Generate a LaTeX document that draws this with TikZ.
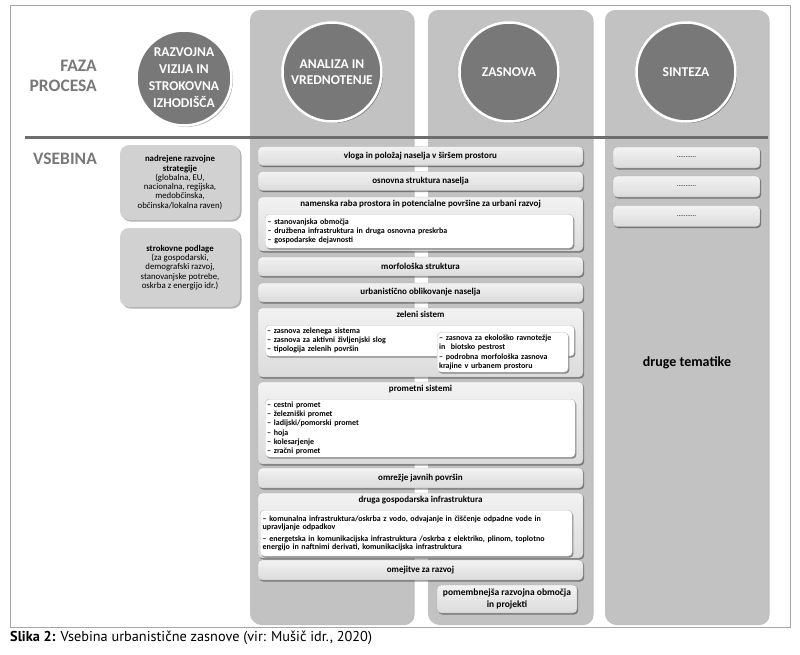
\documentclass[tikz,border=0pt]{standalone}
\usepackage[table,usenames,dvipsnames]{xcolor}
\usepackage{fontspec}
\setmainfont{Carlito}
\newfontfamily\captionfont{PT Sans}
\usetikzlibrary{shadows}

\begin{document}
\begin{tikzpicture}[x=1pt, y=-1pt,
column/.style={shape=rectangle, rounded corners=10pt, fill=gray!48, minimum width=163pt, minimum height=614pt, drop shadow={shadow xshift=1.5pt, shadow yshift=-1pt, fill=black, opacity=0.25}},
phase/.style={shape=circle, draw=white, line width=2.5pt, fill=black!53, text=white, minimum size=99pt, inner sep=0pt, align=center, font=\fontsize{13.5}{16}\selectfont\bfseries, drop shadow={shadow xshift=1.5pt, shadow yshift=-1.5pt, fill=black, opacity=0.35}},
topic/.style={shape=rectangle, rounded corners=4pt, draw=gray!60, top color=gray!10, bottom color=gray!28, minimum width=325pt, minimum height=19pt, inner sep=0pt, align=center, font=\fontsize{9}{10.5}\selectfont\bfseries, drop shadow={shadow xshift=1.2pt, shadow yshift=-1.5pt, fill=black, opacity=0.4}},
sidebox/.style={shape=rectangle, rounded corners=9pt, fill=gray!36, minimum width=120pt, inner sep=0pt, align=center, font=\fontsize{8.8}{9.3}\selectfont, drop shadow={shadow xshift=1.5pt, shadow yshift=-1.5pt, fill=black, opacity=0.3}},
listbox/.style={shape=rectangle, rounded corners=4pt, draw=gray!50, fill=white, anchor=north west, inner sep=2.5pt, align=left, font=\fontsize{8}{9}\selectfont\bfseries, drop shadow={shadow xshift=1.2pt, shadow yshift=-1.5pt, fill=black, opacity=0.4}},
every label/.style={font=\fontsize{9}{10.5}\selectfont\bfseries, inner sep=2pt}]
\useasboundingbox (0,0) rectangle (800,654);
\draw[gray!70, line width=0.8pt] (10,5) rectangle (790,627);

\node[column] (c1) at (331.5,317) {};
\node[column, minimum width=164pt] (c2) at (510,317) {};
\node[column] (c3) at (686.5,317) {};

\node[phase, minimum size=95pt, font=\fontsize{13.5}{17}\selectfont\bfseries] (p0) at (184,78) {RAZVOJNA\\VIZIJA IN\\STROKOVNA\\IZHODIŠČA};
\node[phase] (p1) at (332,72) {ANALIZA IN\\VREDNOTENJE};
\node[phase] (p2) at (509,72) {ZASNOVA};
\node[phase] (p3) at (686,72) {SINTEZA};

\node[anchor=east, align=right, inner sep=0pt, text=black!53, font=\fontsize{17.5}{20}\selectfont\bfseries] (faza) at (97,76) {FAZA\\PROCESA};
\coordinate (l0) at (25,137);
\coordinate (l1) at (768,137);
\draw[black!57, line width=3pt] (l0) -- (l1);
\node[anchor=west, inner sep=0pt, text=black!53, font=\fontsize{17.5}{20}\selectfont\bfseries] (vsebina) at (33,159) {VSEBINA};

\node[sidebox, minimum height=75pt] (s0) at (180,182.5) {\textbf{nadrejene razvojne}\\\textbf{strategije}\\(globalna, EU,\\nacionalna, regijska,\\medobčinska,\\občinska/lokalna raven)};
\node[sidebox, minimum height=79pt] (s1) at (180,267.5) {\textbf{strokovne podlage}\\(za gospodarski,\\demografski razvoj,\\stanovanjske potrebe,\\oskrba z energijo idr.)};

\node[topic] (0) at (420.5,156) {vloga in položaj naselja v širšem prostoru};
\node[topic] (1) at (420.5,181) {osnovna struktura naselja};
\node[topic, minimum height=54pt, label={[anchor=north, yshift=-1.5pt]north:{namenska raba prostora in potencialne površine za urbani razvoj}}] (2) at (420.5,224) {};
\node[listbox, text width=303pt, minimum height=34pt] (2a) at (265,214) {– stanovanjska območja\\– družbena infrastruktura in druga osnovna preskrba\\– gospodarske dejavnosti};
\node[topic] (3) at (420.5,266.5) {morfološka struktura};
\node[topic] (4) at (420.5,292.5) {urbanistično oblikovanje naselja};
\node[topic, minimum height=69pt, label={[anchor=north, yshift=-1.5pt]north:{zeleni sistem}}] (5) at (420.5,342.5) {};
\node[listbox, text width=305pt, minimum height=31pt, inner sep=2pt] (5a) at (265,325) {– zasnova zelenega sistema\\– zasnova za aktivni življenjski slog\\– tipologija zelenih površin};
\node[listbox, text width=127pt, minimum height=40pt, inner sep=2pt, font=\fontsize{8}{9.5}\selectfont\bfseries] (5b) at (437,332) {– zasnova za ekološko ravnotežje\\ in~ biotsko pestrost\\– podrobna morfološka zasnova\\krajine v urbanem prostoru};
\node[topic, minimum height=82pt, label={[anchor=north, yshift=-1.5pt]north:{prometni sistemi}}] (6) at (420.5,423) {};
\node[listbox, text width=306pt, minimum height=58pt, inner sep=2pt, font=\fontsize{8}{9.3}\selectfont\bfseries] (6a) at (265,399) {– cestni promet\\– železniški promet\\– ladijski/pomorski promet\\– hoja\\– kolesarjenje\\– zračni promet};
\node[topic, minimum height=20pt] (7) at (420.5,478) {omrežje javnih površin};
\node[topic, minimum height=65pt, label={[anchor=north, yshift=-1.5pt]north:{druga gospodarska infrastruktura}}] (8) at (420.5,525.5) {};
\node[listbox, text width=307pt, minimum height=46pt, font=\fontsize{8}{8.5}\selectfont\bfseries] (8a) at (260,510) {– komunalna infrastruktura/oskrba z vodo, odvajanje in čiščenje odpadne vode in\\upravljanje odpadkov\\[3pt]– energetska in komunikacijska infrastruktura /oskrba z elektriko, plinom, toplotno\\energijo in naftnimi derivati, komunikacijska infrastruktura};
\node[topic, minimum height=20pt] (9) at (420.5,570) {omejitve za razvoj};
\node[topic, minimum width=140pt, minimum height=28pt, font=\fontsize{9.5}{11.5}\selectfont\bfseries] (10) at (507,599) {pomembnejša razvojna območja\\in projekti};

\node[topic, minimum width=147pt, minimum height=21pt, font=\fontsize{7}{8}\selectfont] (t0) at (686.5,157.5) {...........};
\node[topic, minimum width=147pt, minimum height=21pt, font=\fontsize{7}{8}\selectfont] (t1) at (686.5,186.5) {...........};
\node[topic, minimum width=147pt, minimum height=21pt, font=\fontsize{7}{8}\selectfont] (t2) at (686.5,216) {...........};
\node[font=\fontsize{14}{16}\selectfont\bfseries] (t3) at (687,363) {druge tematike};

\node[anchor=west, inner sep=0pt, font=\captionfont\fontsize{14.3}{16}\selectfont] (cap) at (10,638) {\textbf{Slika 2:} Vsebina urbanistične zasnove (vir: Mušič idr., 2020)};
\end{tikzpicture}
\end{document}
